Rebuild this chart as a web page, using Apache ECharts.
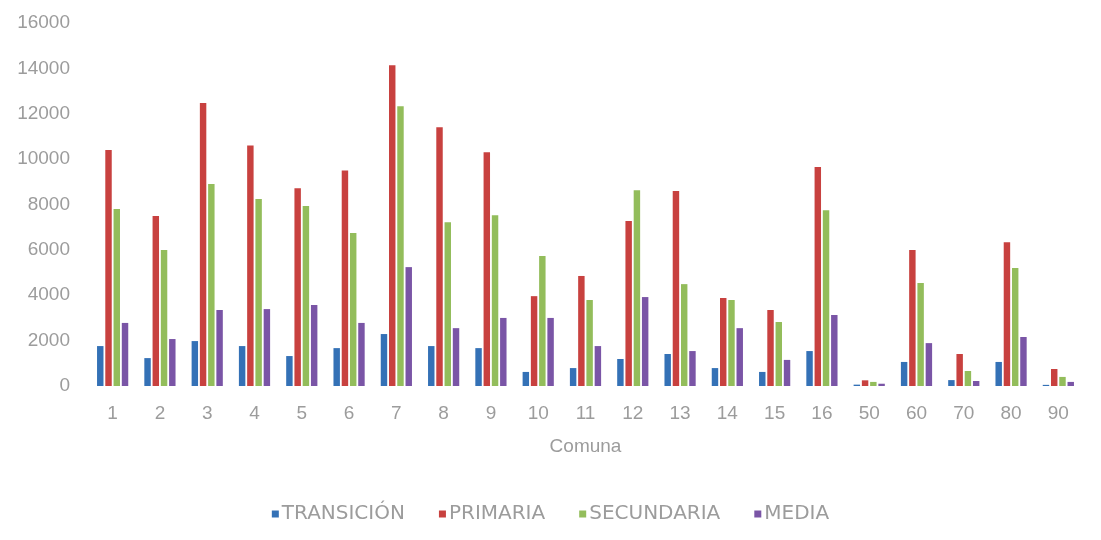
<!DOCTYPE html>
<html>
<head>
<meta charset="utf-8">
<script src="https://cdn.jsdelivr.net/npm/echarts@6/dist/echarts.min.js"></script>
<style>html,body{margin:0;padding:0;background:#fff}#c{width:1101px;height:540px}</style>
</head>
<body>
<div id="c"></div>
<script>
const categories = ['1','2','3','4','5','6','7','8','9','10','11','12','13','14','15','16','50','60','70','80','90'];
const transicion = [1760,1230,1980,1760,1320,1670,2290,1760,1670,620,790,1190,1410,790,620,1540,60,1060,260,1060,50];
const primaria   = [10400,7490,12470,10600,8720,9500,14140,11400,10300,3960,4850,7270,8590,3880,3350,9650,250,5990,1410,6340,750];
const secundaria = [7800,5990,8900,8240,7930,6740,12330,7220,7530,5730,3790,8630,4490,3790,2820,7750,180,4540,660,5200,400];
const media      = [2780,2070,3350,3390,3570,2780,5240,2550,3000,3000,1760,3920,1540,2550,1150,3130,100,1890,220,2160,180];
const yTicks = [0,2000,4000,6000,8000,10000,12000,14000,16000];
const seriesNames = ['TRANSICIÓN','PRIMARIA','SECUNDARIA','MEDIA'];
const colors = ['#3471b6','#c8413f','#93bd5b','#7a55a6'];

const chart = echarts.init(document.getElementById('c'));
const txt = {color:'#9c9c9c', fontFamily:'Liberation Sans, Arial, sans-serif', fontSize:19};
const data = [transicion, primaria, secundaria, media];
chart.setOption({
  backgroundColor:'#ffffff',
  animation:false,
  color: colors,
  grid:{left:89, right:19, top:23, bottom:154, containLabel:false},
  legend:{
    data: seriesNames, top:499, left:'center',
    itemWidth:7, itemHeight:7, itemGap:34,
    icon:'rect',
    textStyle:{color:'#9c9c9c', fontFamily:'DejaVu Sans, sans-serif', fontSize:20, padding:[0,0,0,-2]}
  },
  xAxis:{
    type:'category', data:categories,
    name:'Comuna', nameLocation:'middle', nameGap:51,
    nameTextStyle:txt,
    axisLine:{show:false}, axisTick:{show:false},
    axisLabel:Object.assign({}, txt, {margin:18})
  },
  yAxis:{
    type:'value', min:yTicks[0], max:yTicks[yTicks.length-1], interval:2000,
    splitLine:{show:false}, axisLine:{show:false}, axisTick:{show:false},
    axisLabel:Object.assign({}, txt, {margin:19, formatter:v=>String(v)})
  },
  series: seriesNames.map((n,i)=>({
    name:n, type:'bar', data:data[i],
    barGap:'28%', barCategoryGap:'34%'
  }))
});
</script>
</body>
</html>
